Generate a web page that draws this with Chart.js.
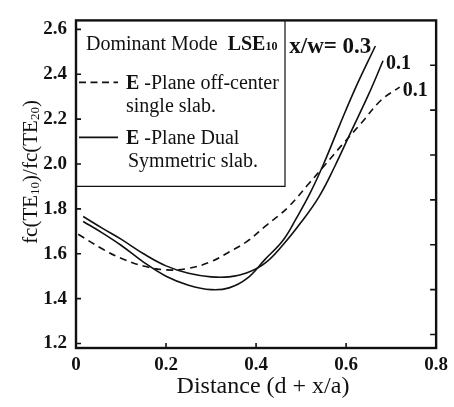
<!DOCTYPE html>
<html>
<head>
<meta charset="utf-8">
<script src="https://cdn.jsdelivr.net/npm/chart.js@4.4.1/dist/chart.umd.min.js"></script>
<style>
  html, body { margin: 0; padding: 0; background: #fff; }
</style>
</head>
<body>
<canvas id="ratioChart" width="454" height="407"></canvas>
<script>
// cutoff ratio fc(TE10)/fc(TE20) against slab position d + x/a
var singleX = [0.005, 0.06, 0.10, 0.15, 0.20, 0.25, 0.30, 0.34, 0.38, 0.42, 0.47, 0.517, 0.554, 0.59, 0.634, 0.677, 0.719];
var singleY = [1.687, 1.620, 1.580, 1.545, 1.528, 1.535, 1.565, 1.608, 1.655, 1.722, 1.805, 1.912, 1.998, 2.083, 2.183, 2.283, 2.343];

var dual03X = [0.016, 0.06, 0.10, 0.15, 0.20, 0.25, 0.30, 0.34, 0.38, 0.42, 0.46, 0.49, 0.52, 0.55, 0.585, 0.62, 0.665];
var dual03Y = [1.744, 1.691, 1.638, 1.563, 1.500, 1.460, 1.440, 1.448, 1.490, 1.575, 1.660, 1.760, 1.87, 2.0, 2.17, 2.335, 2.526];

var dual01X = [0.016, 0.06, 0.10, 0.15, 0.20, 0.25, 0.30, 0.34, 0.38, 0.42, 0.46, 0.50, 0.54, 0.575, 0.61, 0.65, 0.682];
var dual01Y = [1.766, 1.712, 1.665, 1.600, 1.546, 1.513, 1.497, 1.497, 1.515, 1.558, 1.640, 1.740, 1.855, 1.99, 2.14, 2.31, 2.46];

var xTicks = [0, 0.2, 0.4, 0.6, 0.8];
var yTicks = [1.2, 1.4, 1.6, 1.8, 2.0, 2.2, 2.4, 2.6];
var endLabels = ["x/w= 0.3", "0.1", "0.1"];

var yMin = 1.18;
var yMax = 2.64;
var rightShift = 0.16; // right-hand tick marks sit off the left grid

var SERIF = "'Liberation Serif', 'Times New Roman', serif";

function toPoints(xs, ys) {
  return xs.map(function (x, i) {
    return { x: x, y: ys[i] };
  });
}

function lineSet(label, xs, ys, dash) {
  return {
    label: label,
    data: toPoints(xs, ys),
    showLine: true,
    borderColor: "#111",
    borderWidth: 1.6,
    borderDash: dash,
    pointRadius: 0,
    tension: 0.4,
    fill: false,
  };
}

// mixed font text runs: [text, size, weight, dy]
function drawRuns(ctx, x, y, runs) {
  runs.forEach(function (r) {
    ctx.font = (r[2] || "normal") + " " + r[1] + "px " + SERIF;
    ctx.fillText(r[0], x, y + (r[3] || 0));
    x += ctx.measureText(r[0]).width;
  });
  return x;
}

function runsWidth(ctx, runs) {
  var w = 0;
  runs.forEach(function (r) {
    ctx.font = (r[2] || "normal") + " " + r[1] + "px " + SERIF;
    w += ctx.measureText(r[0]).width;
  });
  return w;
}

var decorations = {
  id: "decorations",
  afterDraw: function (chart) {
    var ctx = chart.ctx;
    var a = chart.chartArea;
    var sx = chart.scales.x;
    var sy = chart.scales.y;
    var sy2 = chart.scales.y2;

    ctx.save();
    ctx.strokeStyle = "#111";
    ctx.fillStyle = "#111";

    // frame
    ctx.lineWidth = 2.4;
    ctx.strokeRect(a.left, a.top, a.right - a.left, a.bottom - a.top);

    // inward tick marks
    ctx.lineWidth = 1.6;
    ctx.beginPath();
    sx.ticks.forEach(function (t) {
      var px = sx.getPixelForValue(t.value);
      if (px <= a.left + 2) return;
      ctx.moveTo(px, a.bottom);
      ctx.lineTo(px, a.bottom - 5);
    });
    sy.ticks.forEach(function (t) {
      var py = sy.getPixelForValue(t.value);
      if (py >= a.bottom - 2 || py <= a.top + 2) return;
      ctx.moveTo(a.left, py);
      ctx.lineTo(a.left + 5, py);
    });
    sy2.ticks.forEach(function (t) {
      var py = sy2.getPixelForValue(t.value);
      if (py >= a.bottom - 4 || py <= a.top + 4) return;
      ctx.moveTo(a.right, py);
      ctx.lineTo(a.right - 6, py);
    });
    ctx.stroke();

    // legend box
    var boxR = a.left + 209;
    var boxB = a.top + 166;
    ctx.lineWidth = 1.2;
    ctx.beginPath();
    ctx.moveTo(boxR, a.top);
    ctx.lineTo(boxR, boxB);
    ctx.lineTo(a.left, boxB);
    ctx.stroke();

    ctx.textBaseline = "alphabetic";
    ctx.textAlign = "left";
    var tx = a.left + 10;
    drawRuns(ctx, tx, a.top + 30, [
      ["Dominant Mode  ", 20, "normal"],
      ["LSE", 20, "bold"],
      ["10", 12, "bold"],
    ]);

    var sampleL = a.left + 3;
    var sampleR = a.left + 42;
    var textL = a.left + 50;

    ctx.lineWidth = 1.6;
    ctx.setLineDash([7, 4.5]);
    ctx.beginPath();
    ctx.moveTo(sampleL, a.top + 62);
    ctx.lineTo(sampleR, a.top + 62);
    ctx.stroke();
    ctx.setLineDash([]);
    drawRuns(ctx, textL, a.top + 69, [["E", 20, "bold"], [" -Plane off-center", 20, "normal"]]);
    drawRuns(ctx, textL, a.top + 92, [["single slab.", 20, "normal"]]);

    ctx.beginPath();
    ctx.moveTo(sampleL, a.top + 117);
    ctx.lineTo(sampleR, a.top + 117);
    ctx.stroke();
    drawRuns(ctx, textL, a.top + 124, [["E", 20, "bold"], [" -Plane Dual", 20, "normal"]]);
    drawRuns(ctx, textL + 2, a.top + 147, [["Symmetric slab.", 20, "normal"]]);

    // labels at the upper ends of the curves
    ctx.textBaseline = "middle";
    var ends = [
      [dual03X, dual03Y, -4, 1, "right", 23],
      [dual01X, dual01Y, 3, 3, "left", 20],
      [singleX, singleY, 3, 4, "left", 20],
    ];
    ends.forEach(function (e, i) {
      var n = e[0].length - 1;
      var px = sx.getPixelForValue(e[0][n]) + e[2];
      var py = sy.getPixelForValue(e[1][n]) + e[3];
      ctx.textAlign = e[4];
      ctx.font = "bold " + e[5] + "px " + SERIF;
      ctx.fillText(endLabels[i], px, py);
    });

    // axis titles
    ctx.textAlign = "center";
    ctx.textBaseline = "alphabetic";
    ctx.font = "normal 24px " + SERIF;
    ctx.fillText("Distance (d + x/a)", 263, 393);

    var yRuns = [
      ["fc(TE", 21, "normal"],
      ["10", 13, "normal", 2],
      [")/fc(TE", 21, "normal"],
      ["20", 13, "normal", 2],
      [")", 21, "normal"],
    ];
    ctx.translate(37, 172);
    ctx.rotate(-Math.PI / 2);
    ctx.textAlign = "left";
    drawRuns(ctx, -runsWidth(ctx, yRuns) / 2, 0, yRuns);

    ctx.restore();
  },
};

var tickFont = { family: SERIF, size: 19, weight: "bold" };

new Chart(document.getElementById("ratioChart"), {
  type: "scatter",
  data: {
    datasets: [
      lineSet("E-Plane off-center single slab", singleX, singleY, [7, 5]),
      lineSet("E-Plane Dual Symmetric slab, x/w = 0.3", dual03X, dual03Y, []),
      lineSet("E-Plane Dual Symmetric slab, x/w = 0.1", dual01X, dual01Y, []),
    ],
  },
  options: {
    responsive: false,
    animation: false,
    layout: { padding: { top: 7, left: 0, right: 0, bottom: 0 } },
    plugins: {
      legend: { display: false },
      tooltip: { enabled: false },
    },
    scales: {
      x: {
        type: "linear",
        min: 0,
        max: 0.8,
        afterBuildTicks: function (s) {
          s.ticks = xTicks.map(function (v) { return { value: v }; });
        },
        ticks: {
          color: "#111",
          font: tickFont,
          padding: 6,
          autoSkip: false,
          maxRotation: 0,
          callback: function (v) {
            return v === 0 ? "0" : v.toFixed(1);
          },
        },
        grid: { display: false, drawTicks: false },
        border: { display: false },
        afterFit: function (s) {
          s.height = 59;
        },
      },
      y: {
        type: "linear",
        position: "left",
        min: yMin,
        max: yMax,
        afterBuildTicks: function (s) {
          s.ticks = yTicks.map(function (v) { return { value: v }; });
        },
        ticks: {
          color: "#111",
          font: tickFont,
          padding: 9,
          callback: function (v) {
            return v.toFixed(1);
          },
        },
        grid: { display: false, drawTicks: false },
        border: { display: false },
        afterFit: function (s) {
          s.width = 76;
        },
      },
      y2: {
        type: "linear",
        position: "right",
        min: yMin + rightShift,
        max: yMax + rightShift,
        ticks: { display: false, stepSize: 0.2, includeBounds: false },
        grid: { display: false, drawTicks: false },
        border: { display: false },
        afterFit: function (s) {
          s.width = 11;
        },
      },
    },
  },
  plugins: [decorations],
});
</script>
</body>
</html>
